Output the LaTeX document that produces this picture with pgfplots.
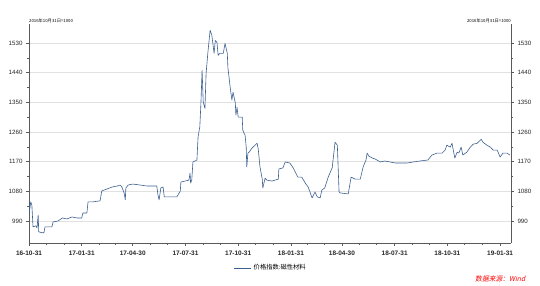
\documentclass[border=0pt]{standalone}
\usepackage{pgfplots}
\pgfplotsset{compat=1.18}
\usepackage{fontspec}
\setmainfont{Liberation Sans}
\newfontfamily\cjk{Noto Sans CJK SC}
\newfontfamily\cjkit{Noto Sans CJK SC}[FakeSlant=0.2]
\definecolor{linec}{RGB}{60,95,145}
\definecolor{axc}{RGB}{90,90,90}
\definecolor{gridc}{RGB}{225,225,225}
\pgfplotstableread{
d v
0 1063
0.5 1014
3 1048
5 1038
7 972
12 975
14 969
16 1008
17 957
23 954
26 954
28 972
40 972
42 987
51 990
58 999
66 996
75 1002
84 999
92 999
94 1014
101 1014
103 1048
112 1048
124 1051
127 1081
136 1087
145 1093
154 1096
159 1099
162 1093
166 1075
168 1054
169 1090
173 1099
181 1102
194 1099
206 1096
216 1096
223 1096
225 1069
227 1054
230 1090
234 1093
236 1063
246 1063
258 1063
264 1081
265 1108
272 1111
279 1114
281 1135
282 1105
284 1114
286 1169
293 1175
295 1245
297 1266
298 1275
300 1348
302 1448
304 1351
307 1332
309 1438
312 1499
316 1569
319 1554
323 1499
325 1538
328 1532
330 1493
333 1499
339 1499
342 1529
346 1499
347 1457
351 1396
354 1357
356 1381
360 1348
361 1311
363 1335
365 1305
372 1305
373 1266
375 1257
377 1251
379 1214
380 1154
382 1196
384 1199
389 1211
398 1226
400 1208
403 1154
407 1117
408 1090
412 1120
415 1114
424 1111
435 1117
436 1148
443 1151
447 1169
455 1166
461 1151
469 1123
476 1123
482 1105
487 1093
494 1060
499 1078
503 1063
508 1060
511 1084
516 1090
522 1123
529 1151
534 1229
538 1220
541 1078
543 1075
557 1072
562 1123
569 1117
578 1117
583 1154
588 1175
590 1196
593 1187
599 1181
604 1178
613 1169
621 1172
630 1169
639 1166
647 1166
660 1166
670 1169
682 1172
696 1175
703 1190
712 1196
721 1196
726 1205
729 1220
735 1214
738 1226
743 1181
747 1199
750 1196
754 1214
757 1190
764 1199
770 1214
775 1223
782 1226
789 1238
792 1229
799 1220
805 1214
810 1205
817 1205
822 1184
827 1196
834 1196
839 1190
}\pricedata
\begin{document}
\begin{tikzpicture}
\useasboundingbox (0,0) rectangle (540bp,286bp);
\pgfplotsset{
  common/.style={
    at={(29bp,43bp)}, anchor=south west,
    scale only axis, width=482bp, height=219bp,
    xmin=0, xmax=841, ymin=923, ymax=1588,
    ytick={990,1080,1170,1260,1350,1440,1530},
    minor y tick num=1,
    tick align=outside,
    clip mode=individual,
    major tick length=3bp, minor tick length=2bp,
    every tick/.style={axc, line width=0.5pt},
    every minor tick/.style={axc, line width=0.4pt},
    axis line style={axc, line width=0.6pt},
    /pgf/number format/assume math mode=true,
    /pgf/number format/1000 sep={},
    yticklabel style={font=\fontsize{6.2}{7}\selectfont, text=black!85},
  }
}
\begin{axis}[common,
  axis x line*=bottom, axis y line*=left,
  ymajorgrids, grid style={gridc, line width=0.5pt},
  xtick={0,92,181,273,365,457,546,638,730,822},
  xticklabels={16-10-31,17-01-31,17-04-30,17-07-31,17-10-31,18-01-31,18-04-30,18-07-31,18-10-31,19-01-31},
  minor xtick={30,61,123,151,212,242,304,334,395,426,485,515,576,606,668,698,760,791},
  xticklabel style={font=\fontsize{6.5}{7}\selectfont\bfseries, text=black!85, yshift=-1bp},
  legend style={at={(0.502,-0.114)}, anchor=center, draw=none, fill=none,
    font=\cjk\fontsize{6.3}{7}\selectfont, inner sep=0pt},
  legend cell align=left,
  legend image post style={line width=0.5pt},
]
\addplot[linec, line width=0.6pt, line join=round] table[x=d, y=v] {\pricedata};
\addlegendentry{价格指数:磁性材料}
\node[anchor=south west, inner sep=0pt, font=\cjk\fontsize{4.3}{5}\selectfont] at (rel axis cs:0,1.005) {2016年10月31日=1000};
\node[anchor=east, inner sep=0pt, text=red, font=\cjkit\fontsize{6.8}{8}\selectfont] at (rel axis cs:1.03,-0.166) {数据来源：Wind};
\end{axis}
\begin{axis}[common,
  axis y line*=right, axis x line=none,
]
\node[anchor=south east, inner sep=0pt, font=\cjk\fontsize{4.3}{5}\selectfont] at (rel axis cs:1,1.005) {2016年10月31日=1000};
\end{axis}
\end{tikzpicture}
\end{document}
